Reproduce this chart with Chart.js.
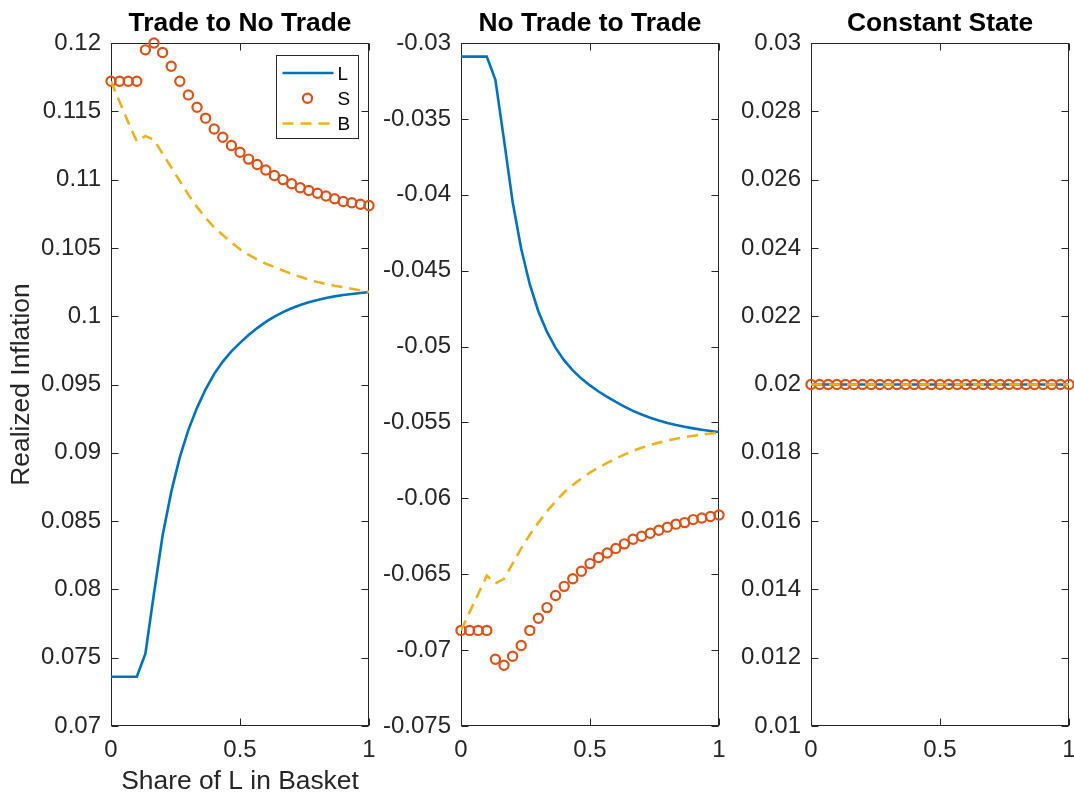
<!DOCTYPE html>
<html><head><meta charset="utf-8">
<script src="https://cdn.jsdelivr.net/npm/chart.js@4/dist/chart.umd.min.js"></script>
<style>
html,body{margin:0;padding:0;background:#fff;overflow:hidden;width:1074px;height:800px;}
#wrap{position:relative;width:1074px;height:800px;overflow:hidden;}
canvas{position:absolute;top:0;}
</style></head><body>
<div id="wrap">
<canvas id="c1" width="389" height="800" style="left:0px"></canvas>
<canvas id="c2" width="359" height="800" style="left:380px"></canvas>
<canvas id="c3" width="359" height="800" style="left:730px"></canvas>
</div>
<script>
// ---- data ----
const xShare = [0, 0.0333, 0.0667, 0.1, 0.1333, 0.1667, 0.2, 0.2333, 0.2667, 0.3, 0.3333, 0.3667, 0.4, 0.4333, 0.4667, 0.5, 0.5333, 0.5667, 0.6, 0.6333, 0.6667, 0.7, 0.7333, 0.7667, 0.8, 0.8333, 0.8667, 0.9, 0.9333, 0.9667, 1];

const seriesNames = ['L', 'S', 'B'];
const panelTitles = ['Trade to No Trade', 'No Trade to Trade', 'Constant State'];
const xTickLabels = ['0', '0.5', '1'];

// Panel 1: Trade to No Trade
const L1 = [0.0736, 0.0736, 0.0736, 0.0736, 0.07529, 0.07972, 0.08395, 0.08712, 0.08968, 0.09168, 0.09329, 0.09465, 0.09578, 0.09668, 0.09742, 0.09805, 0.09862, 0.09913, 0.09958, 0.09997, 0.10030, 0.10058, 0.10082, 0.10102, 0.10119, 0.10133, 0.10145, 0.10155, 0.10163, 0.10170, 0.10176];
const S1 = [0.1172, 0.1172, 0.1172, 0.1172, 0.1195, 0.1200, 0.1193, 0.1183, 0.1172, 0.1162, 0.1153, 0.1145, 0.1137, 0.1131, 0.1125, 0.1120, 0.1115, 0.1111, 0.1107, 0.1103, 0.1100, 0.1097, 0.1094, 0.1092, 0.1090, 0.1088, 0.1086, 0.1084, 0.1083, 0.1082, 0.1081];
const B1 = [0.1172, 0.1157, 0.1142, 0.1128, 0.1132, 0.1129, 0.1119, 0.1109, 0.1099, 0.1089, 0.1080, 0.1072, 0.1065, 0.10595, 0.1054, 0.1049, 0.1045, 0.10415, 0.10385, 0.1036, 0.10335, 0.1031, 0.10288, 0.10268, 0.1025, 0.10236, 0.10223, 0.10212, 0.10201, 0.1019, 0.10178];

// Panel 2: No Trade to Trade
const L2 = [-0.0309, -0.0309, -0.0309, -0.0309, -0.03243, -0.03638, -0.04046, -0.04356, -0.04591, -0.04769, -0.04904, -0.05009, -0.05091, -0.05157, -0.05211, -0.05256, -0.05296, -0.05332, -0.05365, -0.05396, -0.05424, -0.05448, -0.05469, -0.05487, -0.05503, -0.05517, -0.05529, -0.05539, -0.05548, -0.05556, -0.05563];
const S2 = [-0.0687, -0.0687, -0.0687, -0.0687, -0.0706, -0.0710, -0.0704, -0.0697, -0.0687, -0.0679, -0.0672, -0.0664, -0.0658, -0.0653, -0.0648, -0.0643, -0.0639, -0.0636, -0.0633, -0.0630, -0.0627, -0.0625, -0.0623, -0.0621, -0.0619, -0.0617, -0.0616, -0.0614, -0.0613, -0.0612, -0.0611];
const B2 = [-0.0687, -0.0675, -0.0663, -0.0651, -0.0656, -0.0653, -0.0643, -0.0633, -0.0624, -0.0616, -0.06085, -0.0602, -0.0596, -0.05912, -0.05868, -0.0583, -0.05797, -0.05767, -0.05738, -0.05712, -0.05688, -0.05667, -0.05649, -0.05633, -0.05619, -0.05607, -0.05597, -0.05588, -0.0558, -0.05573, -0.05566];

// Panel 3: Constant State
const L3 = [0.02, 0.02, 0.02, 0.02, 0.02, 0.02, 0.02, 0.02, 0.02, 0.02, 0.02, 0.02, 0.02, 0.02, 0.02, 0.02, 0.02, 0.02, 0.02, 0.02, 0.02, 0.02, 0.02, 0.02, 0.02, 0.02, 0.02, 0.02, 0.02, 0.02, 0.02];
const S3 = [0.02, 0.02, 0.02, 0.02, 0.02, 0.02, 0.02, 0.02, 0.02, 0.02, 0.02, 0.02, 0.02, 0.02, 0.02, 0.02, 0.02, 0.02, 0.02, 0.02, 0.02, 0.02, 0.02, 0.02, 0.02, 0.02, 0.02, 0.02, 0.02, 0.02, 0.02];
const B3 = [0.02, 0.02, 0.02, 0.02, 0.02, 0.02, 0.02, 0.02, 0.02, 0.02, 0.02, 0.02, 0.02, 0.02, 0.02, 0.02, 0.02, 0.02, 0.02, 0.02, 0.02, 0.02, 0.02, 0.02, 0.02, 0.02, 0.02, 0.02, 0.02, 0.02, 0.02];

// y-axis ranges (min, max, step) per panel
const yRange1 = [0.07, 0.12, 0.005];
const yRange2 = [-0.075, -0.03, 0.005];
const yRange3 = [0.01, 0.03, 0.002];

// ---- styling ----
const FONT = "'Liberation Sans', Arial, Helvetica, sans-serif";
const AXIS_COLOR = '#262626';
const C_L = '#0072BD', C_S = '#D95319', C_B = '#EDB120';

function fmt(v) { return String(Math.round(v * 100000) / 100000); }

const boxPlugin = {
  id: 'matlabBox',
  beforeDatasetsDraw(chart) {
    const {ctx, chartArea: a, scales} = chart;
    const L = Math.round(a.left) + 0.5, R = Math.round(a.right) - 0.5;
    const T = Math.round(a.top) + 0.5, Bt = Math.round(a.bottom) - 0.5;
    const tl = 7;
    ctx.save();
    ctx.strokeStyle = AXIS_COLOR;
    ctx.lineWidth = 1;
    ctx.beginPath();
    scales.x.ticks.forEach(t => {
      const px = Math.round(scales.x.getPixelForValue(t.value)) + 0.5;
      ctx.moveTo(px, Bt); ctx.lineTo(px, Bt - tl);
      ctx.moveTo(px, T); ctx.lineTo(px, T + tl);
    });
    scales.y.ticks.forEach(t => {
      const py = Math.round(scales.y.getPixelForValue(t.value)) + 0.5;
      ctx.moveTo(L, py); ctx.lineTo(L + tl, py);
      ctx.moveTo(R, py); ctx.lineTo(R - tl, py);
    });
    ctx.stroke();
    ctx.strokeRect(L, T, R - L, Bt - T);
    ctx.restore();
  }
};

const legendPlugin = {
  id: 'matlabLegend',
  afterDraw(chart, args, opts) {
    if (!opts || !opts.show) return;
    const {ctx, chartArea: a} = chart;
    const w = 82, h = 83;
    const bx = Math.round(a.right - 11 - w) + 0.5, by = Math.round(a.top + 12) + 0.5;
    ctx.save();
    ctx.fillStyle = '#fff';
    ctx.fillRect(bx, by, w, h);
    ctx.strokeStyle = AXIS_COLOR;
    ctx.lineWidth = 1;
    ctx.strokeRect(bx, by, w, h);
    const rows = [17.5, 42.7, 68];
    chart.data.datasets.forEach((ds, i) => {
      const y = by + rows[i];
      ctx.save();
      if (ds.showLine === false) {
        ctx.strokeStyle = ds.pointBorderColor;
        ctx.lineWidth = ds.pointBorderWidth;
        ctx.beginPath();
        ctx.arc(bx + 31, y, ds.pointRadius, 0, Math.PI * 2);
        ctx.stroke();
      } else {
        ctx.strokeStyle = ds.borderColor;
        ctx.lineWidth = ds.borderWidth;
        ctx.setLineDash(ds.borderDash || []);
        ctx.beginPath();
        ctx.moveTo(bx + 6, y);
        ctx.lineTo(bx + 57, y);
        ctx.stroke();
      }
      ctx.restore();
      ctx.fillStyle = '#000';
      ctx.font = '19px ' + FONT;
      ctx.textBaseline = 'middle';
      ctx.textAlign = 'left';
      ctx.fillText(ds.label, bx + 61, y + 1.5);
    });
    ctx.restore();
  }
};

function pts(arr) { return xShare.map((x, i) => ({x: x, y: arr[i]})); }

function makeChart(id, title, L, S, B, yr, cfg) {
  return new Chart(document.getElementById(id), {
    type: 'line',
    data: {
      datasets: [
        {label: seriesNames[0], data: pts(L), borderColor: C_L, backgroundColor: C_L, borderWidth: 2.6,
         pointRadius: 0, tension: 0, fill: false, order: 3},
        {label: seriesNames[1], data: pts(S), showLine: false, pointRadius: 4.6, pointBorderWidth: 2.2,
         pointBorderColor: C_S, pointBackgroundColor: 'rgba(0,0,0,0)', borderColor: C_S,
         backgroundColor: 'rgba(0,0,0,0)', order: 2, clip: false},
        {label: seriesNames[2], data: pts(B), borderColor: C_B, backgroundColor: C_B, borderWidth: 2.6,
         borderDash: [11, 7], pointRadius: 0, tension: 0, fill: false, order: 1}
      ]
    },
    options: {
      responsive: false, animation: false, devicePixelRatio: 1,
      events: [],
      layout: {padding: {left: 0, right: cfg.padRight, top: 0, bottom: 0}},
      plugins: {
        legend: {display: false},
        tooltip: {enabled: false},
        title: {display: true, text: title, fullSize: false, color: '#000',
                font: {family: FONT, size: 26.4, weight: 'bold', lineHeight: 1.2},
                padding: {top: 8, bottom: 3.32}},
        matlabLegend: {show: !!cfg.legend}
      },
      scales: {
        x: {
          type: 'linear', min: 0, max: 1,
          ticks: {stepSize: 0.5, padding: 10, color: AXIS_COLOR, maxRotation: 0,
                  font: {family: FONT, size: 24},
                  callback: (v) => { const idx = Math.round(v * 2); return xTickLabels[idx] !== undefined ? xTickLabels[idx] : fmt(v); }},
          grid: {display: false, drawTicks: false, tickLength: 0},
          border: {display: false},
          title: {display: !!cfg.xTitle, text: cfg.xTitle || '', color: AXIS_COLOR,
                  font: {family: FONT, size: 26.4, lineHeight: 1.2}, padding: {top: 0, bottom: 2}},
          afterFit(s) { s.height = 74; }
        },
        y: {
          type: 'linear', min: yr[0], max: yr[1],
          ticks: {stepSize: yr[2], padding: 10, color: AXIS_COLOR,
                  font: {family: FONT, size: 24}, callback: (v) => fmt(v)},
          grid: {display: false, drawTicks: false, tickLength: 0},
          border: {display: false},
          title: {display: !!cfg.yTitle, text: cfg.yTitle || '', color: AXIS_COLOR,
                  font: {family: FONT, size: 26.4, lineHeight: 1.2}, padding: {top: 6, bottom: 0}},
          afterFit(s) { s.width = cfg.yWidth; }
        }
      }
    },
    plugins: [boxPlugin, legendPlugin]
  });
}

makeChart('c1', panelTitles[0], L1, S1, B1, yRange1,
  {padRight: 20, yWidth: 111, xTitle: 'Share of L in Basket', yTitle: 'Realized Inflation', legend: true});
makeChart('c2', panelTitles[1], L2, S2, B2, yRange2, {padRight: 20, yWidth: 81});
makeChart('c3', panelTitles[2], L3, S3, B3, yRange3, {padRight: 20, yWidth: 81});
</script>
</body></html>
